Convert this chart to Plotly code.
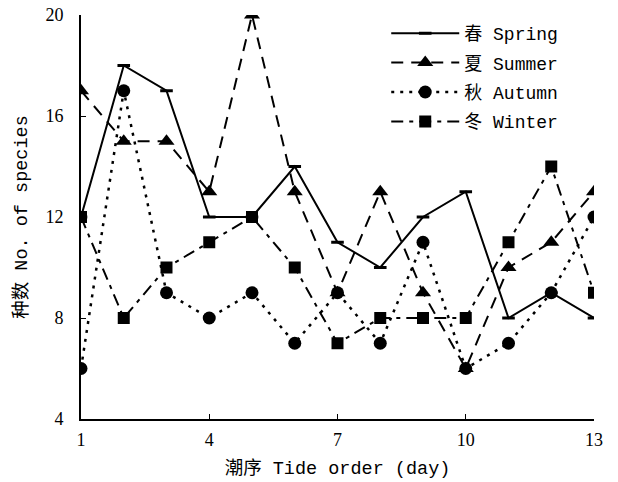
import plotly.graph_objects as go

tide = list(range(1, 14))
spring = [12, 18, 17, 12, 12, 14, 11, 10, 12, 13, 8, 9, 8]
summer = [17, 15, 15, 13, 20, 13, 9, 13, 9, 6, 10, 11, 13]
autumn = [6, 17, 9, 8, 9, 7, 9, 7, 11, 6, 7, 9, 12]
winter = [12, 8, 10, 11, 12, 10, 7, 8, 8, 8, 11, 14, 9]

names = ["春 Spring", "夏 Summer", "秋 Autumn", "冬 Winter"]
x_ticks = [1, 4, 7, 10, 13]
y_ticks = [4, 8, 12, 16, 20]

mono = "Liberation Mono, Noto Sans CJK SC, monospace"
serif = "Liberation Serif, Times New Roman, serif"

fig = go.Figure()
fig.add_trace(go.Scatter(
    x=tide, y=spring, name=names[0], mode="lines+markers", legendgroup="a",
    line=dict(color="black", width=2, dash="solid"),
    marker=dict(symbol="line-ew", size=9, color="black",
                line=dict(color="black", width=3))))
fig.add_trace(go.Scatter(
    x=tide, y=summer, name=names[1], mode="lines+markers", legendgroup="b",
    line=dict(color="black", width=2, dash="12px,8px"),
    marker=dict(symbol="triangle-up", size=14, color="black")))
fig.add_trace(go.Scatter(
    x=tide, y=autumn, name=names[2], mode="lines+markers", legendgroup="c",
    line=dict(color="black", width=2.5, dash="3px,6px"),
    marker=dict(symbol="circle", size=13, color="black")))
fig.add_trace(go.Scatter(
    x=tide, y=winter, name=names[3], mode="lines+markers", legendgroup="d",
    line=dict(color="black", width=2, dash="12px,6px,4px,6px"),
    marker=dict(symbol="square", size=12, color="black")))

# the page body adds an 8px offset, so the figure is sized to fit the window
fig.update_layout(
    width=610, height=474,
    margin=dict(l=73, r=24, t=7, b=63),
    paper_bgcolor="white", plot_bgcolor="white",
    showlegend=True,
    legend=dict(x=0.595, y=1.0, xanchor="left", yanchor="top",
                bgcolor="rgba(0,0,0,0)", itemwidth=68,
                font=dict(family=mono, size=18, color="black"),
                tracegroupgap=3),
    xaxis=dict(range=[1, 13], tickvals=x_ticks, showgrid=False, zeroline=False,
               showline=True, linecolor="black", linewidth=2, automargin=False,
               ticks="inside", ticklen=5, tickcolor="black", ticklabelstandoff=3,
               ticklabeloverflow="allow",
               tickfont=dict(family=serif, size=18, color="black"),
               title=dict(text="潮序 Tide order (day)", standoff=12,
                          font=dict(family=mono, size=18.5, color="black"))),
    yaxis=dict(range=[4, 20], tickvals=y_ticks, showgrid=False, zeroline=False,
               showline=True, linecolor="black", linewidth=2, automargin=False,
               ticks="inside", ticklen=5, tickcolor="black", ticklabelstandoff=12,
               ticklabeloverflow="allow",
               tickfont=dict(family=serif, size=18, color="black"),
               title=dict(text="种数 No. of species", standoff=13,
                          font=dict(family=mono, size=18.5, color="black"))),
)

fig.write_html("out.html")
